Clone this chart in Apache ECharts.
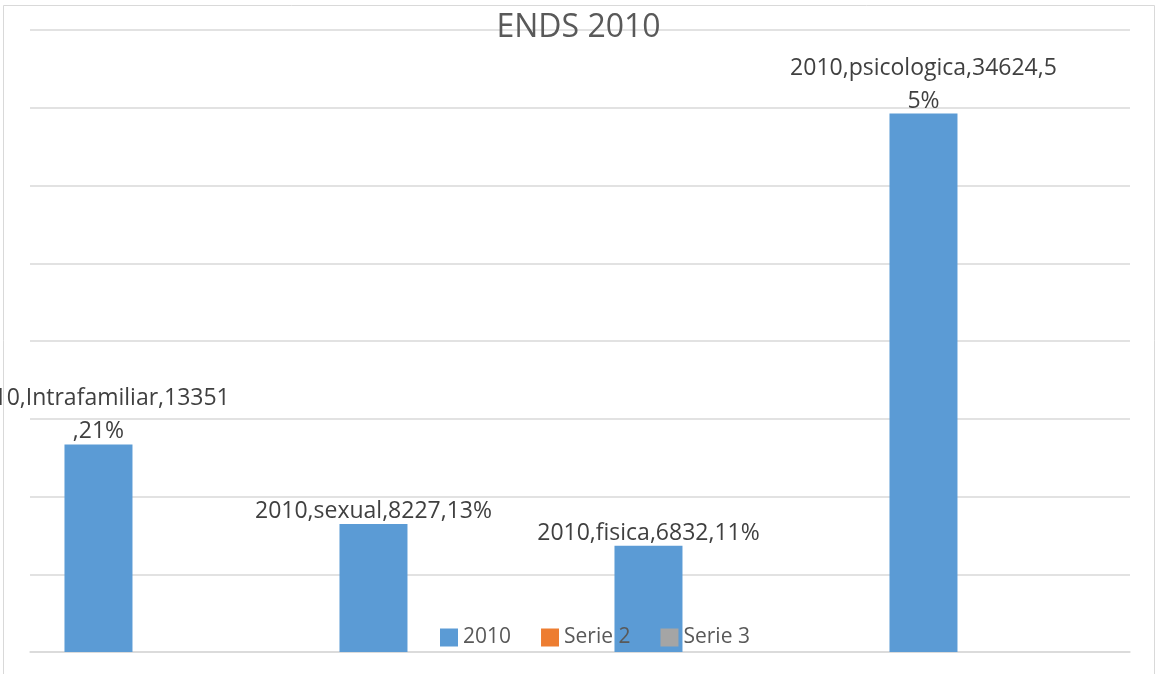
<!DOCTYPE html>
<html>
<head>
<meta charset="utf-8">
<title>ENDS 2010</title>
<script src="https://cdn.jsdelivr.net/npm/echarts@6/dist/echarts.min.js"></script>
<style>
  html, body { margin: 0; padding: 0; background: #fff; }
  #chart { width: 1157px; height: 674px; }
</style>
</head>
<body>
<div id="chart"></div>
<script>
// Violence types reported in ENDS 2010
const categories = ['Intrafamiliar', 'sexual', 'fisica', 'psicologica'];
const seriesNames = ['2010', 'Serie 2', 'Serie 3'];
const values2010 = [13351, 8227, 6832, 34624];
const valuesSerie2 = [null, null, null, null];
const valuesSerie3 = [null, null, null, null];

// Value axis range (gridlines only, no tick labels shown)
const yMin = 0;
const yMax = 40000;
const yStep = 5000;

const total = values2010.reduce((a, b) => a + b, 0);
const colors = ['#5B9BD5', '#ED7D31', '#A5A5A5'];

const chart = echarts.init(document.getElementById('chart'), null, { renderer: 'canvas' });

const labelFont = {
  show: true,
  position: 'top',
  distance: -4,
  color: '#404040',
  fontFamily: 'Open Sans',
  fontSize: 23,
  lineHeight: 33,
  width: 267,
  overflow: 'breakAll',
  formatter: p => `${p.seriesName},${p.name},${p.value},${Math.round(p.value / total * 100)}%`
};

const option = {
  backgroundColor: '#ffffff',
  animation: false,
  color: colors,
  title: {
    text: 'ENDS 2010',
    left: 'center',
    top: 7,
    textStyle: { fontFamily: 'Open Sans', fontSize: 32, fontWeight: 'normal', color: '#595959' }
  },
  legend: {
    left: 440,
    top: 627,
    padding: 0,
    itemWidth: 18,
    itemHeight: 18,
    itemGap: 30,
    icon: 'rect',
    textStyle: { fontFamily: 'Open Sans', fontSize: 21, color: '#595959' },
    data: seriesNames
  },
  grid: { left: 30, right: 27, top: 30, bottom: 22, containLabel: false },
  xAxis: {
    type: 'category',
    data: categories,
    axisLine: { show: true, lineStyle: { color: '#d9d9d9', width: 1.5 } },
    axisTick: { show: false },
    axisLabel: { show: false },
    splitLine: { show: false }
  },
  yAxis: {
    type: 'value',
    min: yMin,
    max: yMax,
    interval: yStep,
    axisLine: { show: false },
    axisTick: { show: false },
    axisLabel: { show: false },
    splitLine: { show: true, lineStyle: { color: '#d9d9d9', width: 1.5 } }
  },
  graphic: [{
    type: 'rect',
    z: -1,
    silent: true,
    shape: { x: 3.5, y: 5.5, width: 1151, height: 720 },
    style: { fill: 'none', stroke: '#d9d9d9', lineWidth: 1 }
  }],
  series: [
    {
      name: seriesNames[0], type: 'bar', data: values2010,
      barWidth: 68, barGap: '1.5%',
      label: labelFont
    },
    { name: seriesNames[1], type: 'bar', data: valuesSerie2, barWidth: 68, barGap: '1.5%' },
    { name: seriesNames[2], type: 'bar', data: valuesSerie3, barWidth: 68, barGap: '1.5%' }
  ]
};

chart.setOption(option);
</script>
</body>
</html>
